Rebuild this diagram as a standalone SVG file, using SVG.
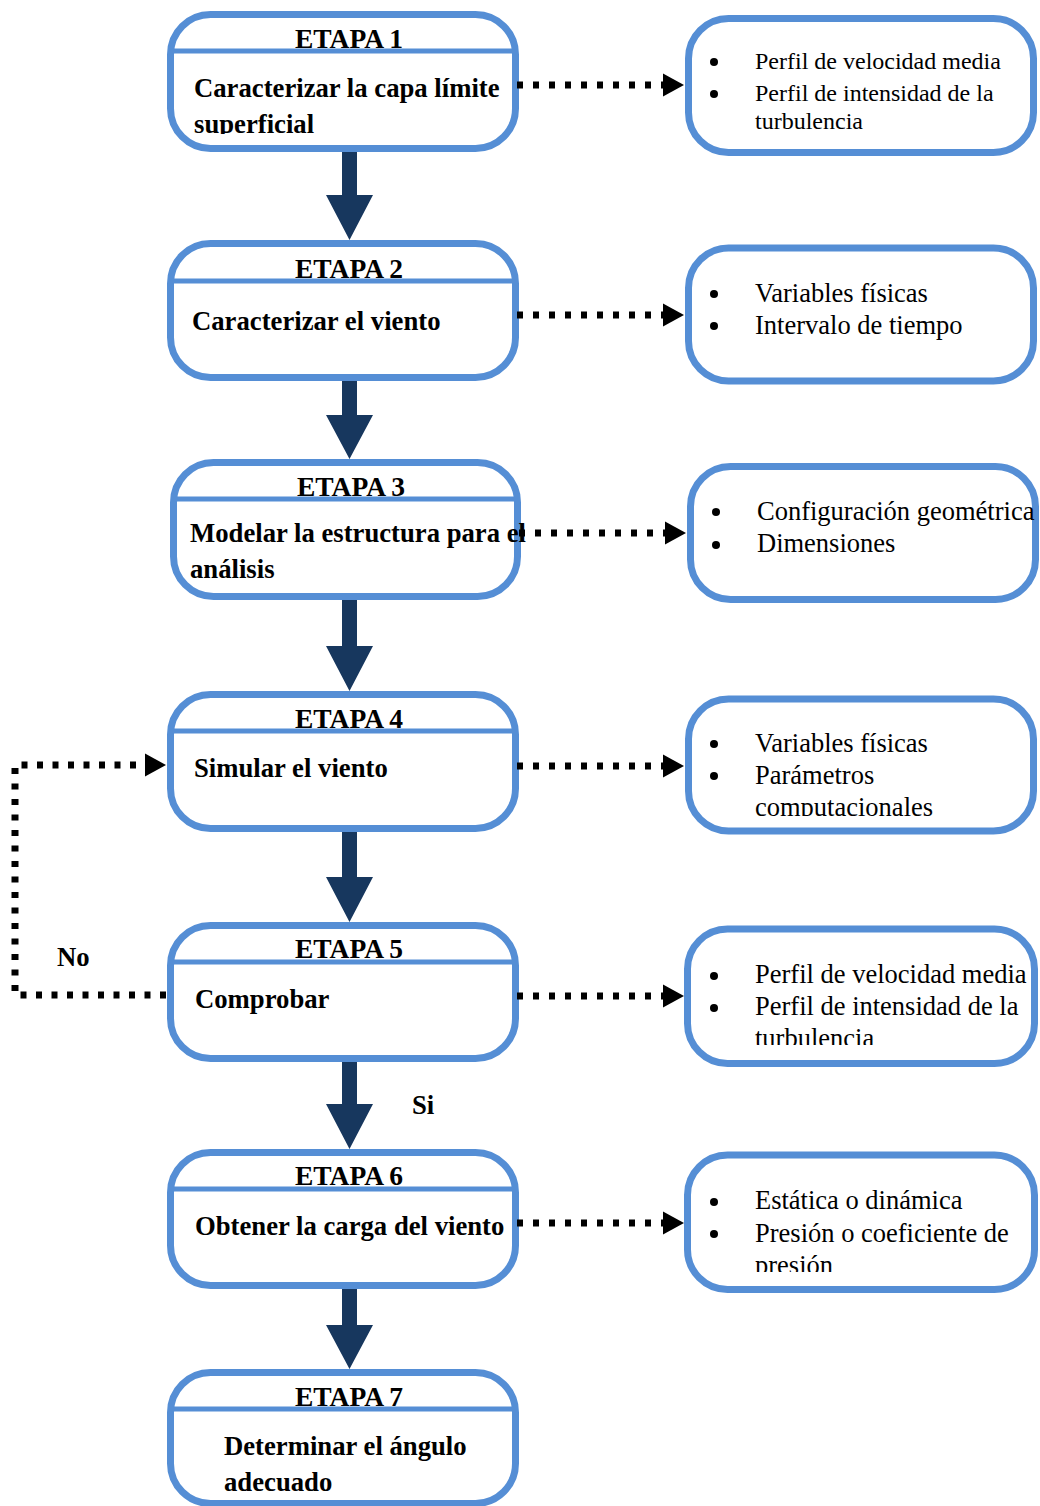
<svg xmlns="http://www.w3.org/2000/svg" width="1040" height="1506" viewBox="0 0 1040 1506">
<style>
.box{fill:#fff;stroke:#558ED5;stroke-width:7}
.div{stroke:#558ED5;stroke-width:5}
.hd{font-family:"Liberation Serif","Times New Roman",serif;font-weight:bold;font-size:27.5px;fill:#000;text-anchor:middle}
.bt{font-family:"Liberation Serif","Times New Roman",serif;font-weight:bold;font-size:26.7px;fill:#000}
.rt{font-family:"Liberation Serif","Times New Roman",serif;font-size:26.5px;fill:#000}
.rt1{font-family:"Liberation Serif","Times New Roman",serif;font-size:24px;fill:#000}
.big{fill:#17375E}
.dot{fill:none;stroke:#000;stroke-width:7;stroke-dasharray:6 10}
.ah{fill:#000}
</style>
<defs>
<clipPath id="c1"><rect x="0" y="0" width="1040" height="134"/></clipPath>
<clipPath id="c4"><rect x="0" y="0" width="1040" height="816"/></clipPath>
<clipPath id="c5"><rect x="0" y="0" width="1040" height="1045"/></clipPath>
<clipPath id="c6"><rect x="0" y="0" width="1040" height="1272"/></clipPath>
</defs>

<g id="node1">
<rect class="box" x="170.5" y="14.5" width="345" height="134" rx="40"/>
<line class="div" x1="172" y1="51" x2="514" y2="51"/>
<text class="hd" x="349" y="48">ETAPA 1</text>
<text class="bt" x="194" y="97">Caracterizar la capa límite</text>
<text class="bt" x="194" y="133" clip-path="url(#c1)">superficial</text>
</g>
<g id="node2">
<rect class="box" x="170.5" y="243.5" width="345" height="134" rx="40"/>
<line class="div" x1="172" y1="281" x2="514" y2="281"/>
<text class="hd" x="349" y="278">ETAPA 2</text>
<text class="bt" x="192" y="330">Caracterizar el viento</text>
</g>
<g id="node3">
<rect class="box" x="173.5" y="462.5" width="344" height="134" rx="40"/>
<line class="div" x1="175" y1="499" x2="516" y2="499"/>
<text class="hd" x="351" y="496">ETAPA 3</text>
<text class="bt" x="190" y="542">Modelar la estructura para el</text>
<text class="bt" x="190" y="578">análisis</text>
</g>
<g id="node4">
<rect class="box" x="170.5" y="694.5" width="345" height="134" rx="40"/>
<line class="div" x1="172" y1="731" x2="514" y2="731"/>
<text class="hd" x="349" y="728">ETAPA 4</text>
<text class="bt" x="194" y="777">Simular el viento</text>
</g>
<g id="node5">
<rect class="box" x="170.5" y="925.5" width="345" height="133" rx="40"/>
<line class="div" x1="172" y1="962" x2="514" y2="962"/>
<text class="hd" x="349" y="958">ETAPA 5</text>
<text class="bt" x="195" y="1008">Comprobar</text>
</g>
<g id="node6">
<rect class="box" x="170.5" y="1152.5" width="345" height="133" rx="40"/>
<line class="div" x1="172" y1="1189" x2="514" y2="1189"/>
<text class="hd" x="349" y="1185">ETAPA 6</text>
<text class="bt" x="195" y="1235">Obtener la carga del viento</text>
</g>
<g id="node7">
<rect class="box" x="170.5" y="1372.5" width="345" height="131" rx="40"/>
<line class="div" x1="172" y1="1409" x2="514" y2="1409"/>
<text class="hd" x="349" y="1406">ETAPA 7</text>
<text class="bt" x="224" y="1455">Determinar el ángulo</text>
<text class="bt" x="224" y="1491">adecuado</text>
</g>

<g id="info1">
<rect class="box" x="688.5" y="18.5" width="345" height="134" rx="40"/>
<circle cx="714" cy="62" r="4"/><circle cx="714" cy="94" r="4"/>
<text class="rt1" x="755" y="69">Perfil de velocidad media</text>
<text class="rt1" x="755" y="101">Perfil de intensidad de la</text>
<text class="rt1" x="755" y="129">turbulencia</text>
</g>
<g id="info2">
<rect class="box" x="688.5" y="248" width="345" height="133" rx="40"/>
<circle cx="714" cy="294" r="4"/><circle cx="714" cy="326" r="4"/>
<text class="rt" x="755" y="302">Variables físicas</text>
<text class="rt" x="755" y="334">Intervalo de tiempo</text>
</g>
<g id="info3">
<rect class="box" x="690.5" y="466.5" width="345" height="133" rx="40"/>
<circle cx="716" cy="512" r="4"/><circle cx="716" cy="545" r="4"/>
<text class="rt" x="757" y="520">Configuración geométrica</text>
<text class="rt" x="757" y="552">Dimensiones</text>
</g>
<g id="info4">
<rect class="box" x="688.5" y="699" width="345" height="132" rx="40"/>
<circle cx="714" cy="744" r="4"/><circle cx="714" cy="776" r="4"/>
<text class="rt" x="755" y="752">Variables físicas</text>
<text class="rt" x="755" y="784">Parámetros</text>
<text class="rt" x="755" y="816" clip-path="url(#c4)">computacionales</text>
</g>
<g id="info5">
<rect class="box" x="687.5" y="929" width="347" height="134.5" rx="40"/>
<circle cx="714" cy="976" r="4"/><circle cx="714" cy="1008" r="4"/>
<text class="rt" x="755" y="983">Perfil de velocidad media</text>
<text class="rt" x="755" y="1015">Perfil de intensidad de la</text>
<text class="rt" x="755" y="1047" clip-path="url(#c5)">turbulencia</text>
</g>
<g id="info6">
<rect class="box" x="687.5" y="1155" width="347" height="134.5" rx="40"/>
<circle cx="714" cy="1202" r="4"/><circle cx="714" cy="1234" r="4"/>
<text class="rt" x="755" y="1209">Estática o dinámica</text>
<text class="rt" x="755" y="1242">Presión o coeficiente de</text>
<text class="rt" x="755" y="1274" clip-path="url(#c6)">presión</text>
</g>

<g id="connectors">
<polygon class="big" points="342,152 357,152 357,195 373,195 349.5,240 326,195 342,195"/>
<polygon class="big" points="342,381 357,381 357,415 373,415 349.5,459 326,415 342,415"/>
<polygon class="big" points="342,600 357,600 357,646 373,646 349.5,691 326,646 342,646"/>
<polygon class="big" points="342,832 357,832 357,877 373,877 349.5,922 326,877 342,877"/>
<polygon class="big" points="342,1062 357,1062 357,1104 373,1104 349.5,1149 326,1104 342,1104"/>
<polygon class="big" points="342,1289 357,1289 357,1325 373,1325 349.5,1369 326,1325 342,1325"/>

<path class="dot" d="M517 85 H663"/>
<polygon class="ah" points="663,73.5 684,85 663,96.5"/>
<path class="dot" d="M517 315 H663"/>
<polygon class="ah" points="663,303.5 684,315 663,326.5"/>
<path class="dot" d="M519 533 H665"/>
<polygon class="ah" points="665,521.5 686,533 665,544.5"/>
<path class="dot" d="M517 766 H663"/>
<polygon class="ah" points="663,754.5 684,766 663,777.5"/>
<path class="dot" d="M517 996 H663"/>
<polygon class="ah" points="663,984.5 684,996 663,1007.5"/>
<path class="dot" d="M517 1223 H663"/>
<polygon class="ah" points="663,1211.5 684,1223 663,1234.5"/>

<path class="dot" d="M166 995 H15 V765 H145" style="stroke-dasharray:6 9.5"/>
<polygon class="ah" points="145,753.5 166,765 145,776.5"/>

<text class="bt" x="57" y="966">No</text>
<text class="bt" x="412" y="1114">Si</text>
</g>
</svg>
